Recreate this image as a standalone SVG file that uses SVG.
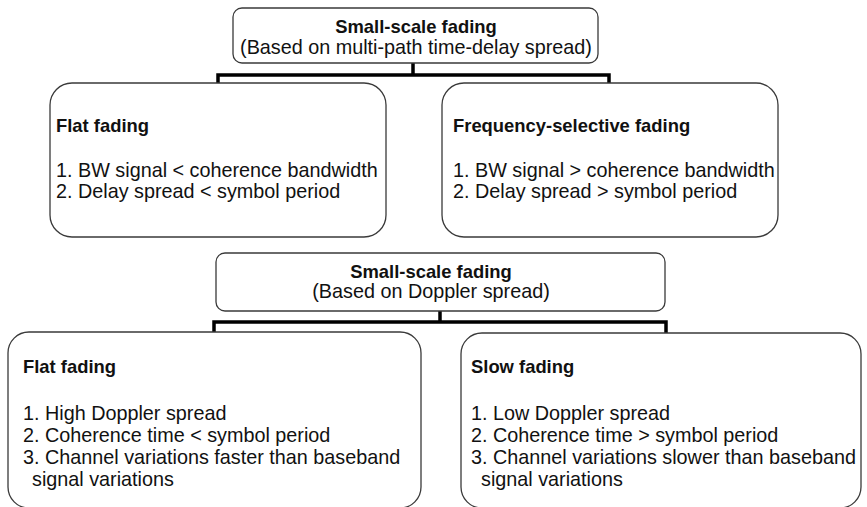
<svg xmlns="http://www.w3.org/2000/svg" width="867" height="507" viewBox="0 0 867 507">
  <style>
    .box { fill: #ffffff; stroke: #3a3a3a; stroke-width: 1.3; }
    .link { fill: none; stroke: #000000; stroke-width: 3.5; stroke-linejoin: miter; }
    text { font-family: "Liberation Sans", Arial, sans-serif; fill: #111111; }
    .hd { font-weight: bold; font-size: 18.4px; }
    .tx { font-size: 19.8px; }
    .mid { text-anchor: middle; }
  </style>
  <rect width="867" height="507" fill="#ffffff"/>

  <!-- tree connectors -->
  <g id="connectors">
    <path class="link" d="M413 63 V75 M218 84 V75 H609 V84"/>
    <path class="link" d="M440 311 V322 M214 333 V322 H666 V333"/>
  </g>

  <!-- classification by multi-path time-delay spread -->
  <g id="delay-root">
    <rect class="box" x="233" y="8" width="365" height="55" rx="9"/>
    <text class="hd mid" x="416" y="33">Small-scale fading</text>
    <text class="tx mid" x="416" y="54">(Based on multi-path time-delay spread)</text>
  </g>

  <g id="flat-delay">
    <rect class="box" x="50" y="83" width="336" height="154" rx="22"/>
    <text class="hd" x="56" y="132">Flat fading</text>
    <text class="tx" x="56" y="177">1. BW signal &lt; coherence bandwidth</text>
    <text class="tx" x="56" y="198">2. Delay spread &lt; symbol period</text>
  </g>

  <g id="freq-selective">
    <rect class="box" x="442" y="83" width="336" height="154" rx="22"/>
    <text class="hd" x="453" y="132">Frequency-selective fading</text>
    <text class="tx" x="453" y="177">1. BW signal &gt; coherence bandwidth</text>
    <text class="tx" x="453" y="198">2. Delay spread &gt; symbol period</text>
  </g>

  <!-- classification by Doppler spread -->
  <g id="doppler-root">
    <rect class="box" x="216" y="253" width="449" height="58" rx="9"/>
    <text class="hd mid" x="431" y="278">Small-scale fading</text>
    <text class="tx mid" x="431" y="298">(Based on Doppler spread)</text>
  </g>

  <!-- lower boxes run past the bottom edge of the canvas -->
  <g id="flat-doppler">
    <rect class="box" x="8" y="332" width="413" height="176" rx="21"/>
    <text class="hd" x="23" y="373">Flat fading</text>
    <text class="tx" x="23" y="420">1. High Doppler spread</text>
    <text class="tx" x="23" y="442">2. Coherence time &lt; symbol period</text>
    <text class="tx" x="23" y="464">3. Channel variations faster than baseband</text>
    <text class="tx" x="32" y="486">signal variations</text>
  </g>

  <g id="slow-fading">
    <rect class="box" x="461" y="333" width="400" height="175" rx="21"/>
    <text class="hd" x="471" y="373">Slow fading</text>
    <text class="tx" x="471" y="420">1. Low Doppler spread</text>
    <text class="tx" x="471" y="442">2. Coherence time &gt; symbol period</text>
    <text class="tx" x="471" y="464">3. Channel variations slower than baseband</text>
    <text class="tx" x="481" y="486">signal variations</text>
  </g>
</svg>
